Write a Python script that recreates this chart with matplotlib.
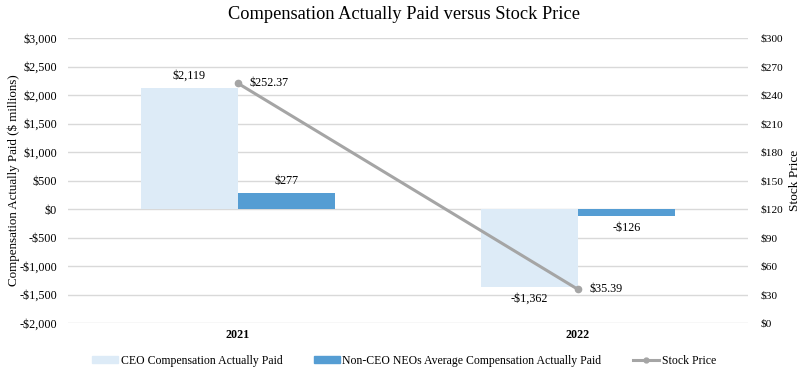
import matplotlib
matplotlib.use("Agg")
import matplotlib.pyplot as plt
from matplotlib.ticker import FuncFormatter, MultipleLocator
from matplotlib.lines import Line2D
from matplotlib.patches import Patch
import numpy as np

plt.rcParams['font.family'] = ['Liberation Serif', 'DejaVu Serif']

years = ["2021", "2022"]
ceo_cap = [2119, -1362]
neo_cap = [277, -126]
stock_price = [252.37, 35.39]

ceo_color = "#DDEBF7"
neo_color = "#559DD3"
line_color = "#A5A5A5"

fig = plt.figure(figsize=(8.08, 3.70), dpi=100)
ax = fig.add_axes([68 / 808, 0.127, 680 / 808, 0.770])
ax2 = ax.twinx()

x = np.arange(len(years))
w = 0.285
ax.bar(x - w / 2, ceo_cap, width=w, color=ceo_color, zorder=2)
ax.bar(x + w / 2, neo_cap, width=w, color=neo_color, zorder=2)

ax.set_xlim(-0.5, 1.5)
ax.set_ylim(-2000, 3000)
ax.yaxis.set_major_locator(MultipleLocator(500))

def dollar(v, pos=None):
    if v < 0:
        return "-${:,.0f}".format(-v)
    return "${:,.0f}".format(v)

ax.yaxis.set_major_formatter(FuncFormatter(dollar))
ax.grid(axis='y', color='#D9D9D9', linewidth=1.0, zorder=0)
ax.set_axisbelow(True)
for s in ax.spines.values():
    s.set_visible(False)
for s in ax2.spines.values():
    s.set_visible(False)
ax.tick_params(axis='both', length=0, labelsize=8.7)
ax.tick_params(axis='y', pad=8)
ax.set_xticks(x)
ax.set_xticklabels(years, fontweight='bold', fontsize=8.7)
ax.tick_params(axis='x', pad=4)

ax.set_ylabel("Compensation Actually Paid ($ millions)", fontsize=9.4,
              va='center', ha='center')
ax.yaxis.set_label_coords(-0.0794, 0.5)

lab_fs = 8.7
off = 4.5
for xi, v in zip(x, ceo_cap):
    if v >= 0:
        ax.annotate(dollar(v), (xi - w / 2, v), xytext=(0, off), textcoords='offset points',
                    ha='center', va='bottom', fontsize=lab_fs)
    else:
        ax.annotate(dollar(v), (xi - w / 2, v), xytext=(0, -off), textcoords='offset points',
                    ha='center', va='top', fontsize=lab_fs)
for xi, v in zip(x, neo_cap):
    if v >= 0:
        ax.annotate(dollar(v), (xi + w / 2, v), xytext=(0, off), textcoords='offset points',
                    ha='center', va='bottom', fontsize=lab_fs)
    else:
        ax.annotate(dollar(v), (xi + w / 2, v), xytext=(0, -off), textcoords='offset points',
                    ha='center', va='top', fontsize=lab_fs)

ax2.plot(x, stock_price, color=line_color, linewidth=2.2, marker='o', markersize=4.5, zorder=3)
ax2.set_ylim(0, 300)
ax2.yaxis.set_major_locator(MultipleLocator(30))
ax2.yaxis.set_major_formatter(FuncFormatter(lambda v, p: "${:,.0f}".format(v)))
ax2.tick_params(axis='y', length=0, labelsize=8.2, pad=9)
ax2.set_ylabel("Stock Price", fontsize=9.6, va='center', ha='center')
ax2.yaxis.set_label_coords(1.0695, 0.5)
for xi, v in zip(x, stock_price):
    ax2.annotate("${:,.2f}".format(v), (xi, v), xytext=(8, 0), textcoords='offset points',
                 ha='left', va='center', fontsize=lab_fs)

fig.suptitle("Compensation Actually Paid versus Stock Price", fontsize=13.2, y=0.985)

handles = [Patch(color=ceo_color), Patch(color=neo_color),
           Line2D([0], [0], color=line_color, linewidth=2.2, marker='o', markersize=3.5)]
labels = ["CEO Compensation Actually Paid",
          "Non-CEO NEOs Average Compensation Actually Paid", "Stock Price"]
fig.legend(handles, labels, loc='lower center', bbox_to_anchor=(0.5, -0.02), ncol=3,
           frameon=False, fontsize=8.5, handlelength=2.2, handleheight=0.5,
           handletextpad=0.2, columnspacing=2.7)

fig.savefig("out.png", dpi=100)
